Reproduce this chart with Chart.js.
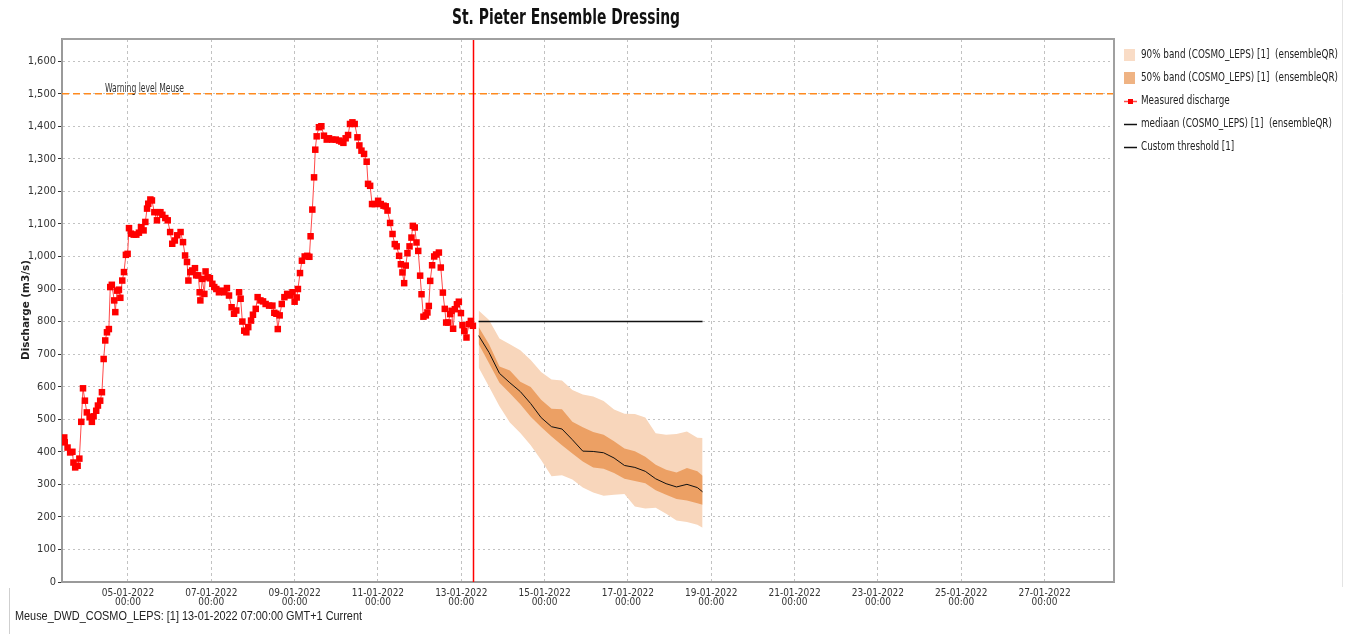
<!DOCTYPE html>
<html>
<head>
<meta charset="utf-8">
<script src="https://cdn.jsdelivr.net/npm/chart.js@4.4.0/dist/chart.umd.min.js"></script>
<style>
  html, body { margin: 0; background: #fff; }
  canvas { display: block; }
</style>
</head>
<body>
<canvas id="chart" width="1360" height="634"></canvas>
<script>
// time axis is in hours counted from 01-01-2022 00:00 (GMT+1)
const measuredHours = [
  59.3, 59.6, 61.2, 62.7, 64.0, 64.6, 65.6, 67.0, 68.0, 69.1, 70.1, 71.2, 72.3, 73.9, 75.2, 76.2, 77.7, 78.7,
  80.0, 81.0, 82.0, 82.9, 83.9, 85.0, 85.8, 86.7, 88.1, 88.7, 89.7, 90.8, 91.6, 92.7, 93.7, 94.8, 95.8, 96.6,
  97.7, 99.3, 100.8, 102.3, 103.5, 105.0, 106.0, 107.0, 107.7, 108.9, 109.8, 111.2, 112.7, 113.3, 114.7, 115.8,
  117.5, 118.9, 120.3, 121.5, 123.0, 124.4, 126.3, 127.7, 128.9, 130.0, 130.8, 131.9, 133.0, 134.6, 135.3, 136.5,
  137.3, 137.7, 138.8, 140.0, 140.7, 141.9, 143.2, 144.6, 145.7, 146.9, 148.4, 150.0, 151.5, 153.0, 154.2, 155.7,
  157.1, 158.4, 160.0, 160.9, 161.9, 163.0, 164.2, 165.3, 166.9, 168.0, 169.6, 170.7, 172.3, 173.8, 175.3, 177.3,
  179.2, 180.3, 181.5, 182.3, 183.4, 184.6, 186.1, 187.7, 189.2, 190.8, 192.0, 193.2, 193.9, 195.1, 196.2, 197.8,
  199.3, 200.5, 201.2, 202.2, 203.2, 203.9, 204.7, 206.0, 207.4, 208.9, 210.5, 211.8, 213.7, 215.7, 217.6, 218.9,
  220.1, 221.4, 222.8, 223.9, 225.3, 226.6, 228.2, 229.3, 230.5, 232.0, 233.5, 234.3, 235.5, 236.6, 238.2, 240.1,
  241.6, 243.2, 244.5, 245.5, 247.0, 248.4, 249.7, 250.8, 252.2, 253.2, 254.1, 255.1, 256.0, 257.0, 258.2, 259.3,
  260.1, 261.2, 262.2, 263.2, 264.3, 265.1, 266.2, 267.6, 268.5, 269.3, 270.1, 271.2, 272.4, 273.5, 275.1, 276.2,
  277.4, 278.5, 279.3, 280.5, 281.6, 282.4, 283.3, 284.3, 285.5, 286.6, 287.8, 288.7, 289.7, 291.0, 292.4, 293.5,
  294.7
];
const measuredValues = [
  444, 429, 413, 398, 400, 367, 352, 357, 379, 492, 595, 557, 521, 506, 492, 509, 526, 542,
  557, 583, 685, 742, 767, 777, 906, 913, 865, 829, 895, 898, 873, 926, 952, 1005, 1008, 1087,
  1070, 1067, 1067, 1073, 1090, 1080, 1106, 1147, 1162, 1175, 1172, 1136, 1111, 1136, 1136, 1128,
  1118, 1111, 1075, 1039, 1049, 1065, 1075, 1044, 1003, 983, 926, 952, 957, 964, 942, 942,
  890, 865, 931, 885, 954, 936, 933, 916, 906, 900, 890, 895, 890, 903, 880, 844,
  824, 834, 890, 870, 800, 772, 767, 783, 803, 821, 839, 875, 865, 862, 854, 849,
  849, 827, 824, 777, 819, 854, 875, 885, 880, 890, 861, 874, 900, 949, 987, 1000,
  1002, 999, 1062, 1144, 1243, 1328, 1369, 1397, 1400, 1371, 1359, 1363, 1359, 1359, 1356, 1353,
  1349, 1363, 1373, 1407, 1412, 1407, 1366, 1341, 1325, 1315, 1291, 1223, 1217, 1161, 1161, 1171,
  1161, 1156, 1154, 1141, 1103, 1069, 1038, 1031, 1002, 976, 951, 918, 972, 1010, 1031, 1058,
  1094, 1089, 1043, 1017, 941, 884, 815, 819, 828, 848, 925, 973, 1000, 1006, 1012, 966,
  889, 839, 797, 797, 823, 833, 778, 838, 853, 861, 826, 789, 771, 751, 792, 802,
  787
];

const forecastHours = [298, 304, 310, 316, 322, 328, 334, 340, 346, 352, 358, 364, 370, 376, 382, 388, 394, 400, 406, 412, 418, 424, 427];
const median     = [757, 705, 641, 612, 585, 548, 505, 477, 470, 437, 402, 401, 397, 381, 358, 352, 340, 317, 302, 292, 300, 290, 277];
const band50High = [783, 730, 662, 650, 615, 599, 560, 532, 531, 492, 475, 461, 452, 432, 410, 402, 385, 360, 345, 336, 350, 340, 326];
const band50Low  = [731, 672, 612, 580, 546, 508, 476, 447, 420, 395, 370, 352, 348, 335, 317, 310, 303, 282, 268, 255, 250, 242, 237];
const band90High = [834, 805, 748, 730, 712, 682, 645, 622, 619, 590, 576, 570, 556, 530, 517, 516, 505, 457, 452, 455, 462, 443, 442];
const band90Low  = [659, 600, 540, 490, 458, 420, 375, 325, 328, 315, 290, 275, 265, 268, 270, 232, 226, 228, 210, 189, 184, 176, 167];

const thresholdHours = [298, 427];
const thresholdValues = [800, 800];
const warningLevel = 1500;
const currentHour = 295;

const xTickHours = [96, 144, 192, 240, 288, 336, 384, 432, 480, 528, 576, 624];
const xTickLabels = ['05-01-2022', '07-01-2022', '09-01-2022', '11-01-2022', '13-01-2022', '15-01-2022',
  '17-01-2022', '19-01-2022', '21-01-2022', '23-01-2022', '25-01-2022', '27-01-2022'];
const yTicks = [0, 100, 200, 300, 400, 500, 600, 700, 800, 900, 1000, 1100, 1200, 1300, 1400, 1500, 1600];

const NARROW = "'Liberation Sans Narrow', 'DejaVu Sans Condensed', 'Liberation Sans', sans-serif";
const BAND90 = '#f8d6bb';
const BAND50 = '#eca064';

const pts = (xs, ys) => xs.map((x, i) => ({ x: x, y: ys[i] }));

function fitText(ctx, text, x, y, font, width, align, color) {
  ctx.save();
  ctx.font = font;
  ctx.fillStyle = color;
  ctx.textBaseline = 'middle';
  ctx.textAlign = align;
  const sx = width ? width / ctx.measureText(text).width : 1;
  ctx.translate(x, y);
  ctx.scale(sx, 1);
  ctx.fillText(text, 0, 0);
  ctx.restore();
}

const decor = {
  id: 'decor',
  beforeDatasetsDraw(chart) {
    const { ctx, chartArea: a, scales: { y } } = chart;
    ctx.save();
    const wy = y.getPixelForValue(warningLevel);
    ctx.strokeStyle = '#ff8a1e';
    ctx.lineWidth = 1.5;
    ctx.setLineDash([7, 4]);
    ctx.beginPath(); ctx.moveTo(a.left, wy); ctx.lineTo(a.right, wy); ctx.stroke();
    ctx.setLineDash([]);
    fitText(ctx, 'Warning level Meuse', 105, wy - 5, '12px ' + NARROW, 79, 'left', '#333');
    ctx.restore();
  },
  afterDatasetsDraw(chart) {
    const { ctx, chartArea: a, scales: { x } } = chart;
    const cx = Math.round(x.getPixelForValue(currentHour)) + 0.5;
    ctx.save();
    ctx.setLineDash([]);
    ctx.strokeStyle = 'rgb(255,0,0)';
    ctx.lineWidth = 1.5;
    ctx.beginPath(); ctx.moveTo(cx, a.top); ctx.lineTo(cx, a.bottom); ctx.stroke();
    ctx.restore();
  },
  afterDraw(chart) {
    const { ctx, chartArea: a } = chart;
    ctx.save();
    // frame top / right
    ctx.strokeStyle = '#a0a0a0';
    ctx.lineWidth = 2;
    ctx.beginPath();
    ctx.moveTo(a.left, a.top); ctx.lineTo(a.right, a.top); ctx.lineTo(a.right, a.bottom);
    ctx.stroke();
    // panel separators
    ctx.strokeStyle = '#e4e4e4';
    ctx.lineWidth = 1;
    ctx.beginPath(); ctx.moveTo(1342.5, 0); ctx.lineTo(1342.5, 587); ctx.stroke();
    ctx.strokeStyle = '#cfcfcf';
    ctx.beginPath(); ctx.moveTo(9.5, 588); ctx.lineTo(9.5, 634); ctx.stroke();

    fitText(ctx, 'St. Pieter Ensemble Dressing', 566, 19, 'bold 21px ' + NARROW, 228, 'center', '#111');

    ctx.save();
    ctx.translate(26, 310);
    ctx.rotate(-Math.PI / 2);
    fitText(ctx, 'Discharge (m3/s)', 0, 0, 'bold 11px ' + NARROW, 100, 'center', '#222');
    ctx.restore();

    // legend
    const ds = chart.data.datasets;
    const order = [6, 4, 1, 2, 0];
    const rowY = [55, 78, 101, 124, 147];
    ctx.font = '13px ' + NARROW;
    const sx = 197 / ctx.measureText(ds[6].label).width;
    order.forEach((idx, r) => {
      const d = ds[idx];
      const yc = rowY[r];
      if (d.legendKind === 'box') {
        ctx.fillStyle = d.legendColor;
        ctx.fillRect(1124, yc - 6, 11, 12);
      } else {
        ctx.strokeStyle = d.borderColor;
        ctx.lineWidth = 1.5;
        ctx.beginPath(); ctx.moveTo(1124, yc + 0.5); ctx.lineTo(1137, yc + 0.5); ctx.stroke();
        if (d.legendKind === 'marker') {
          ctx.fillStyle = d.pointBackgroundColor;
          ctx.fillRect(1128, yc - 2, 5, 5);
        }
      }
      ctx.save();
      ctx.font = '13px ' + NARROW;
      ctx.fillStyle = '#222';
      ctx.textBaseline = 'middle';
      ctx.translate(1141, yc);
      ctx.scale(sx, 1);
      ctx.fillText(d.label, 0, 0);
      ctx.restore();
    });

    fitText(ctx, 'Meuse_DWD_COSMO_LEPS: [1] 13-01-2022 07:00:00 GMT+1 Current', 15, 617,
      '12px "Liberation Sans", Arial, sans-serif', 347, 'left', '#222');
    ctx.restore();
  }
};

new Chart(document.getElementById('chart'), {
  type: 'line',
  data: {
    datasets: [
      { label: 'Custom threshold [1]', legendKind: 'line', data: pts(thresholdHours, thresholdValues),
        borderColor: '#111', borderWidth: 1.5, pointRadius: 0, fill: false },
      { label: 'Measured discharge', legendKind: 'marker', data: pts(measuredHours, measuredValues),
        borderColor: '#ff4a4a', borderWidth: 1, pointStyle: 'rect', pointRadius: 4.6,
        pointBackgroundColor: '#ff0000', pointBorderWidth: 0, fill: false },
      { label: 'mediaan (COSMO_LEPS) [1]  (ensembleQR)', legendKind: 'line', data: pts(forecastHours, median),
        borderColor: '#111', borderWidth: 1, pointRadius: 0, fill: false },
      { label: '50% band low', data: pts(forecastHours, band50Low), borderColor: 'rgba(0,0,0,0)',
        borderWidth: 0, pointRadius: 0, fill: 4, backgroundColor: BAND50 },
      { label: '50% band (COSMO_LEPS) [1]  (ensembleQR)', legendKind: 'box', legendColor: '#efb383',
        data: pts(forecastHours, band50High), borderColor: 'rgba(0,0,0,0)', borderWidth: 0, pointRadius: 0, fill: false },
      { label: '90% band low', data: pts(forecastHours, band90Low), borderColor: 'rgba(0,0,0,0)',
        borderWidth: 0, pointRadius: 0, fill: 6, backgroundColor: BAND90 },
      { label: '90% band (COSMO_LEPS) [1]  (ensembleQR)', legendKind: 'box', legendColor: '#f9dcc6',
        data: pts(forecastHours, band90High), borderColor: 'rgba(0,0,0,0)', borderWidth: 0, pointRadius: 0, fill: false }
    ]
  },
  options: {
    responsive: false,
    animation: false,
    layout: { padding: { top: 39, right: 246, left: 0, bottom: 0 } },
    elements: { line: { tension: 0 } },
    plugins: {
      legend: { display: false },
      title: { display: false },
      tooltip: { enabled: false }
    },
    scales: {
      x: {
        type: 'linear',
        min: 58,
        max: 664,
        afterFit: (s) => { s.height = 52; },
        afterBuildTicks: (s) => { s.ticks = xTickHours.map((v) => ({ value: v })); },
        ticks: {
          autoSkip: false,
          maxRotation: 0,
          padding: 7,
          color: '#333',
          font: { family: NARROW, size: 10, lineHeight: 0.9 },
          callback: (v) => {
            const i = xTickHours.indexOf(v);
            return i < 0 ? '' : [xTickLabels[i], '00:00'];
          }
        },
        grid: { color: '#c2c2c2', lineWidth: 1, drawTicks: false },
        border: { color: '#9a9a9a', width: 2, dash: [3, 3] }
      },
      y: {
        min: 0,
        max: 1668,
        afterFit: (s) => { s.width = 62; },
        afterBuildTicks: (s) => { s.ticks = yTicks.map((v) => ({ value: v })); },
        ticks: {
          padding: 2,
          color: '#333',
          font: { family: NARROW, size: 11 },
          callback: (v) => v.toLocaleString('en-US')
        },
        grid: { color: '#c2c2c2', lineWidth: 1, tickLength: 4, tickColor: '#333', tickBorderDash: [], tickWidth: 1 },
        border: { color: '#9a9a9a', width: 2, dash: [2, 3] }
      }
    }
  },
  plugins: [decor]
});
</script>
</body>
</html>
